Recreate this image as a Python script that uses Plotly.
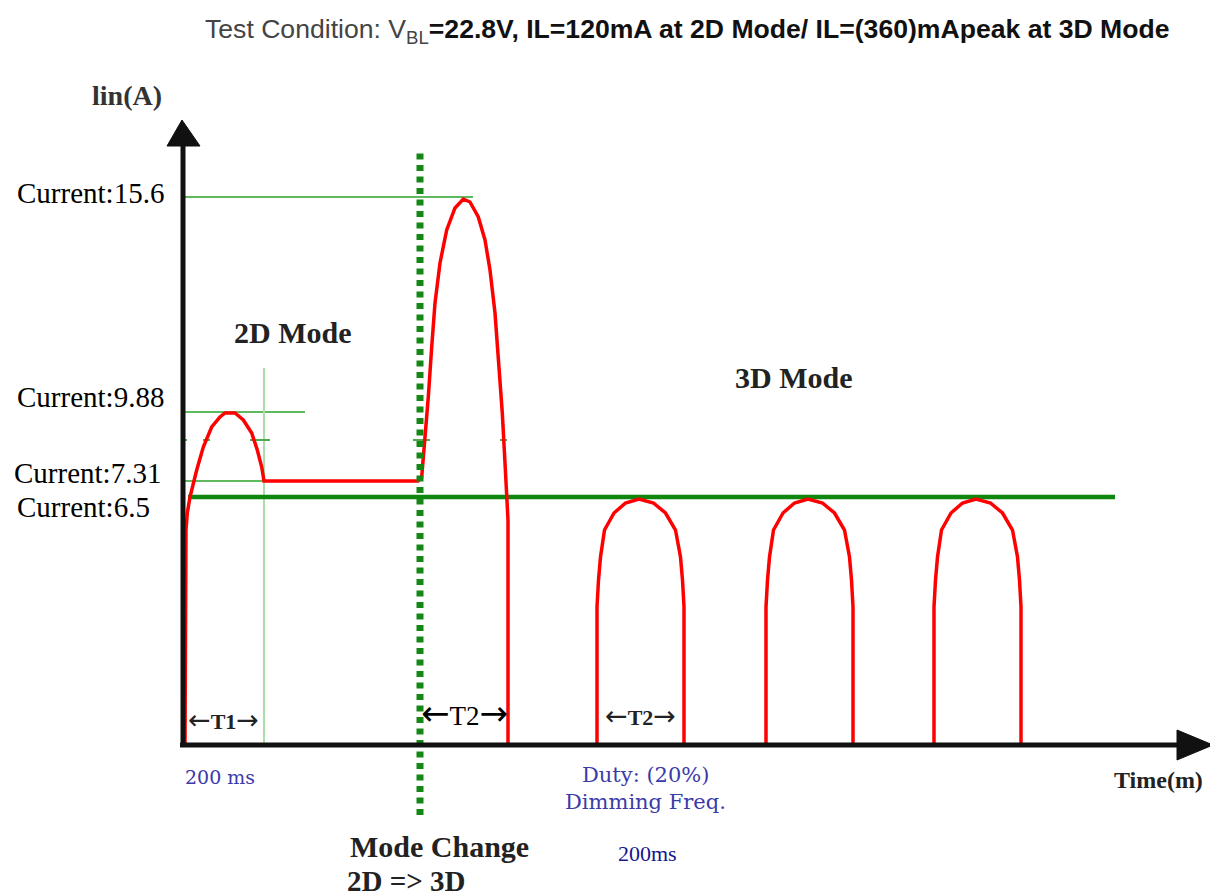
import plotly.graph_objects as go

# ---------------- data (schematic units read from the picture; not to scale) -------------
title_regular = "Test Condition: V<sub>BL</sub>"
title_bold = "=22.8V, IL=120mA at 2D Mode/ IL=(360)mApeak at 3D Mode"

level_labels = ["Current:15.6", "Current:9.88", "Current:7.31", "Current:6.5"]
level_heights = [548, 333, 264, 248]          # drawn height of each current level

# 2D mode waveform + first 3D pulse after mode change (time, drawn current height)
wave_2d_t = [2, 2.5, 3, 4.3, 7, 13.7, 20.3, 28.7, 37, 42, 52, 60.3, 68.7, 74.3, 78.7, 81,
             235, 238.7, 241, 243, 245.3, 248.7, 252, 257, 263.7, 272, 280.3, 287, 295.3,
             302, 307, 312, 316, 319.3, 322, 323.7, 325, 325]
wave_2d_i = [0, 145, 215, 232, 248, 275, 298, 318, 328, 332, 332, 325, 312, 295, 278, 264,
             264, 268, 295, 315, 348, 398, 442, 482, 515, 537, 546, 543, 528,
             505, 475, 432, 382, 332, 282, 248, 225, 0]

# 3D mode pulses: start times and one pulse profile (offset, drawn height)
pulse_starts_3d = [414, 583, 751]
pulse_dt = [0, 0, 1.5, 3.5, 7.5, 17, 28.5, 42, 56.5, 68.5, 78.5, 83.5, 85.5, 87, 87]
pulse_h = [0, 138, 165, 188, 215, 232, 242, 246, 242, 232, 215, 188, 165, 138, 0]

# timing events
t_T1_end = 81
t_mode_change = 237
t_first_pulse_end = 325
pulse_width = 87

# ---------------- layout constants ----------------
W, H = 1210, 896
X0, Y0 = 183, 745          # pixel position of the origin
x_rng = [-X0, W - X0]
y_rng = [Y0 - H, Y0]

SERIF = "Liberation Serif, Times New Roman, serif"
DSERIF = "DejaVu Serif, serif"
SANS = "Liberation Sans, Arial, sans-serif"

fig = go.Figure()


def seg(xs, ys, color, width, dash=None):
    fig.add_trace(go.Scatter(x=xs, y=ys, mode="lines", hoverinfo="skip",
                             line=dict(color=color, width=width, dash=dash)))


# thin green reference lines
seg([0, 290], [level_heights[0]] * 2, "rgb(95,185,95)", 2)
seg([0, 122], [level_heights[1]] * 2, "rgb(95,185,95)", 2)
seg([0, t_T1_end], [level_heights[2]] * 2, "rgb(95,185,95)", 2)
seg([t_T1_end, t_T1_end], [0, 377], "rgb(170,222,170)", 2)
# small tick dashes
dash_y = 305
seg([0, 4, None, 20, 27, None, 67, 87, None, 230, 247, None, 317, 324],
    [dash_y, dash_y, None, dash_y, dash_y, None, dash_y, dash_y, None,
     dash_y, dash_y, None, dash_y, dash_y], "rgb(80,170,80)", 2)

# thick 6.5 level line
seg([5, 932], [level_heights[3]] * 2, "rgb(15,135,15)", 4.5)

# red waveform
seg(wave_2d_t, wave_2d_i, "#ff0000", 3.5)
px, py = [], []
for s in pulse_starts_3d:
    px += [s + d for d in pulse_dt] + [None]
    py += pulse_h + [None]
seg(px, py, "#ff0000", 3.5)

# mode change dotted line
seg([t_mode_change, t_mode_change], [-70, 595], "rgb(20,135,20)", 7, dash="6px,5.5px")

# axes
seg([0, 0], [0, 600], "#111111", 5)
seg([-3, 995], [0, 0], "#111111", 5)
fig.add_trace(go.Scatter(x=[-1, -16, 17, -1], y=[625, 599, 599, 625], mode="lines",
                         fill="toself", fillcolor="#111111", line=dict(color="#111111", width=1),
                         hoverinfo="skip"))
fig.add_trace(go.Scatter(x=[994, 994, 1030, 994], y=[15, -15, 0, 15], mode="lines",
                         fill="toself", fillcolor="#111111", line=dict(color="#111111", width=1),
                         hoverinfo="skip"))

ann = []


def text(x, y, s, size, family, color="#111", anchor="center"):
    ann.append(dict(x=x, y=y, text=s, showarrow=False, xanchor=anchor, yanchor="middle",
                    font=dict(size=size, family=family, color=color)))


def span_label(label, arrow_size):
    st = f"font-family:DejaVu Sans;font-size:{arrow_size}px"
    return f"<span style='{st}'>←</span>{label}<span style='{st}'>→</span>"


# title
text(20, 714, f"<span style='color:#444'>{title_regular}</span><b>{title_bold}</b>",
     26.6, SANS, "#111", "left")
text(-93, 650, "<b>lin(A)</b>", 28, SERIF, "#333", "left")

# current labels
label_offsets = [4, 15, 8, -10]
label_left = [-168, -168, -171, -168]
for lab, h, off, lx in zip(level_labels, level_heights, label_offsets, label_left):
    text(lx, h + off, lab, 29, SERIF, "#000", "left")

text(109, 413, "<b>2D Mode</b>", 30, SERIF, "#222")
text(610, 368, "<b>3D Mode</b>", 30, SERIF, "#222")

# time spans
text(t_T1_end / 2, 26, span_label("<b>T1</b>", 27), 22, SERIF, "#222")
text((t_mode_change + t_first_pulse_end) / 2, 32, span_label("T2", 34), 27, SERIF, "#000")
text(pulse_starts_3d[0] + pulse_width / 2, 30, span_label("<b>T2</b>", 27), 22, SERIF, "#222")

text(0, -32, "200 ms", 19, DSERIF, "#3a3aa8", "left")
text(462, -30, "Duty: (20%)", 21, DSERIF, "#3a3aa8")
text(462, -57, "Dimming Freq.", 21, DSERIF, "#3a3aa8")
text(464, -108, "200ms", 22, SERIF, "#14148c")
text(256, -101, "<b>Mode Change</b>", 30, SERIF, "#222")
text(162, -136, "<b>2D =&gt; 3D</b>", 29, SERIF, "#222", "left")
text(975, -35, "<b>Time(m)</b>", 24, SERIF, "#222")

fig.update_layout(
    width=W, height=H, margin=dict(l=0, r=0, t=0, b=0),
    paper_bgcolor="white", plot_bgcolor="white", showlegend=False,
    xaxis=dict(range=x_rng, visible=False, fixedrange=True),
    yaxis=dict(range=y_rng, visible=False, fixedrange=True),
    annotations=ann,
)

fig.write_html("out.html", config={"displayModeBar": False},
               post_script="document.body.style.margin='0';document.body.style.overflow='hidden';")
